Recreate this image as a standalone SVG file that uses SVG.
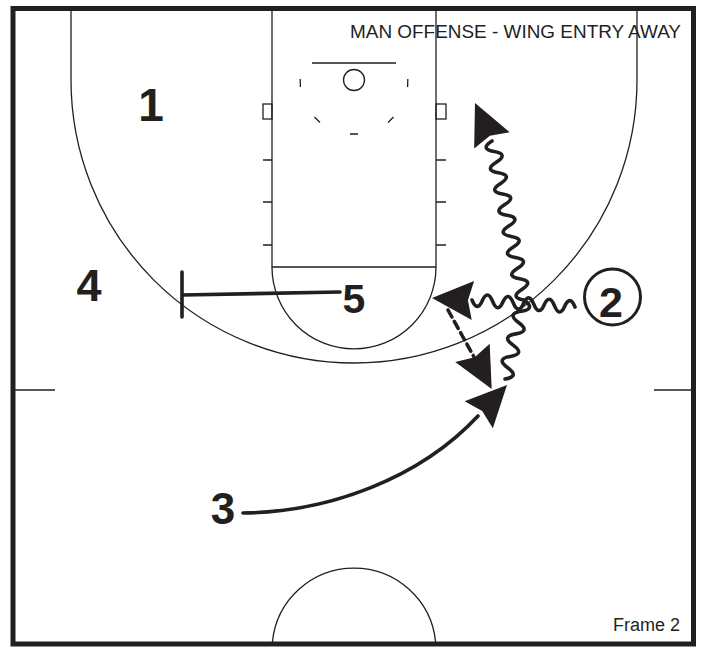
<svg xmlns="http://www.w3.org/2000/svg" width="702" height="650" viewBox="0 0 702 650">
<style>
.court{fill:none;stroke:#231f20;stroke-width:1.3}
.lbl{font-family:"Liberation Sans",Arial,sans-serif;fill:#231f20}
.num{font-family:"Liberation Sans",Arial,sans-serif;font-weight:bold;fill:#231f20;text-anchor:middle}
.act{fill:none;stroke:#231f20;stroke-width:3.6;stroke-linecap:round;stroke-linejoin:round}
.ah{fill:#231f20}
</style>
<defs>
<path id="ah" d="M0,0 L-41,-19.5 L-36,0 L-41,19.5 Z"/>
</defs>
<rect width="702" height="650" fill="#fff"/>
<g id="court">
<path class="court" d="M272,8 V267 H436 V8"/>
<path class="court" d="M272,267 A82,82 0 0 0 436,267"/>
<path class="court" d="M71,8 V80 A283,283 0 0 0 637,80 V8"/>
<path class="court" d="M13,390 H55 M654,390 H693"/>
<path class="court" d="M272.4,642 A82,82 0 0 1 435.6,642"/>
<rect class="court" x="263" y="104" width="9" height="15"/>
<rect class="court" x="436" y="104" width="10" height="15"/>
<path class="court" d="M263,160 H272 M263,202 H272 M263,245 H272 M436,160 H446 M436,202 H446 M436,245 H446"/>
<path class="court" d="M312,63 H396"/>
<circle class="court" cx="354" cy="80" r="10.5"/>
<path class="court" d="M300.2,79 L300.4,87 M407.8,79 L407.6,87 M314.5,117 L320,122.5 M393.5,117 L388,122.5 M350,134 H358"/>
<rect x="13" y="8.5" width="680.5" height="635.5" fill="none" stroke="#231f20" stroke-width="5"/>
</g>
<text class="lbl" x="350" y="38" font-size="17.5" textLength="331" lengthAdjust="spacingAndGlyphs">MAN OFFENSE - WING ENTRY AWAY</text>
<text class="lbl" x="613" y="631" font-size="18">Frame 2</text>
<g id="connectors">
<path id="screen-5" class="act" d="M182,295 L340,292 M182,272 V317" stroke-linecap="butt"/>
<path id="dribble-left" class="act" d="M575,307 Q569.85,294.65 564.7,306.3 T554.4,305.6 T544.1,304.9 T533.8,304.2 T523.5,303.5 T513.2,302.8 T502.9,302.1 T492.6,301.4 T482.3,300.7 T472,300"/>
<use href="#ah" class="ah" transform="translate(432,298) rotate(183.5)"/>
<path id="dribble-up" class="act" d="M505,379 Q519.96,376.66 507.71,367.71 T510.43,356.43 T513.14,345.14 T515.86,333.86 T518.57,322.57 T521.29,311.29 T524,300 Q509.19,297.47 521.87,289.4 T519.73,278.8 T517.6,268.2 T515.47,257.6 T513.33,247 T511.2,236.4 T509.07,225.8 T506.93,215.2 T504.8,204.6 T502.67,194 T500.53,183.4 T498.4,172.8 T496.27,162.2 T494.13,151.6 T492,141"/>
<use href="#ah" class="ah" transform="translate(475,103) rotate(-114.4)"/>
<path id="pass" class="act" d="M448,310 L474,357" stroke-dasharray="8 5" stroke-linecap="butt"/>
<use href="#ah" class="ah" transform="translate(491.7,389) rotate(62)"/>
<path id="cut-3" class="act" d="M243,513 C330,512 420,478 478,416"/>
<use href="#ah" class="ah" transform="translate(507,385) rotate(-46.4)"/>
</g>
<g id="player-1"><text class="num" x="151" y="121" font-size="46">1</text></g>
<g id="player-2"><circle cx="612.5" cy="297" r="28" fill="#fff" stroke="#231f20" stroke-width="3"/><text class="num" x="611" y="317" font-size="43">2</text></g>
<g id="player-3"><text class="num" x="223" y="524" font-size="44">3</text></g>
<g id="player-4"><text class="num" x="89" y="301" font-size="45">4</text></g>
<g id="player-5"><text class="num" x="354" y="313" font-size="41">5</text></g>
</svg>
